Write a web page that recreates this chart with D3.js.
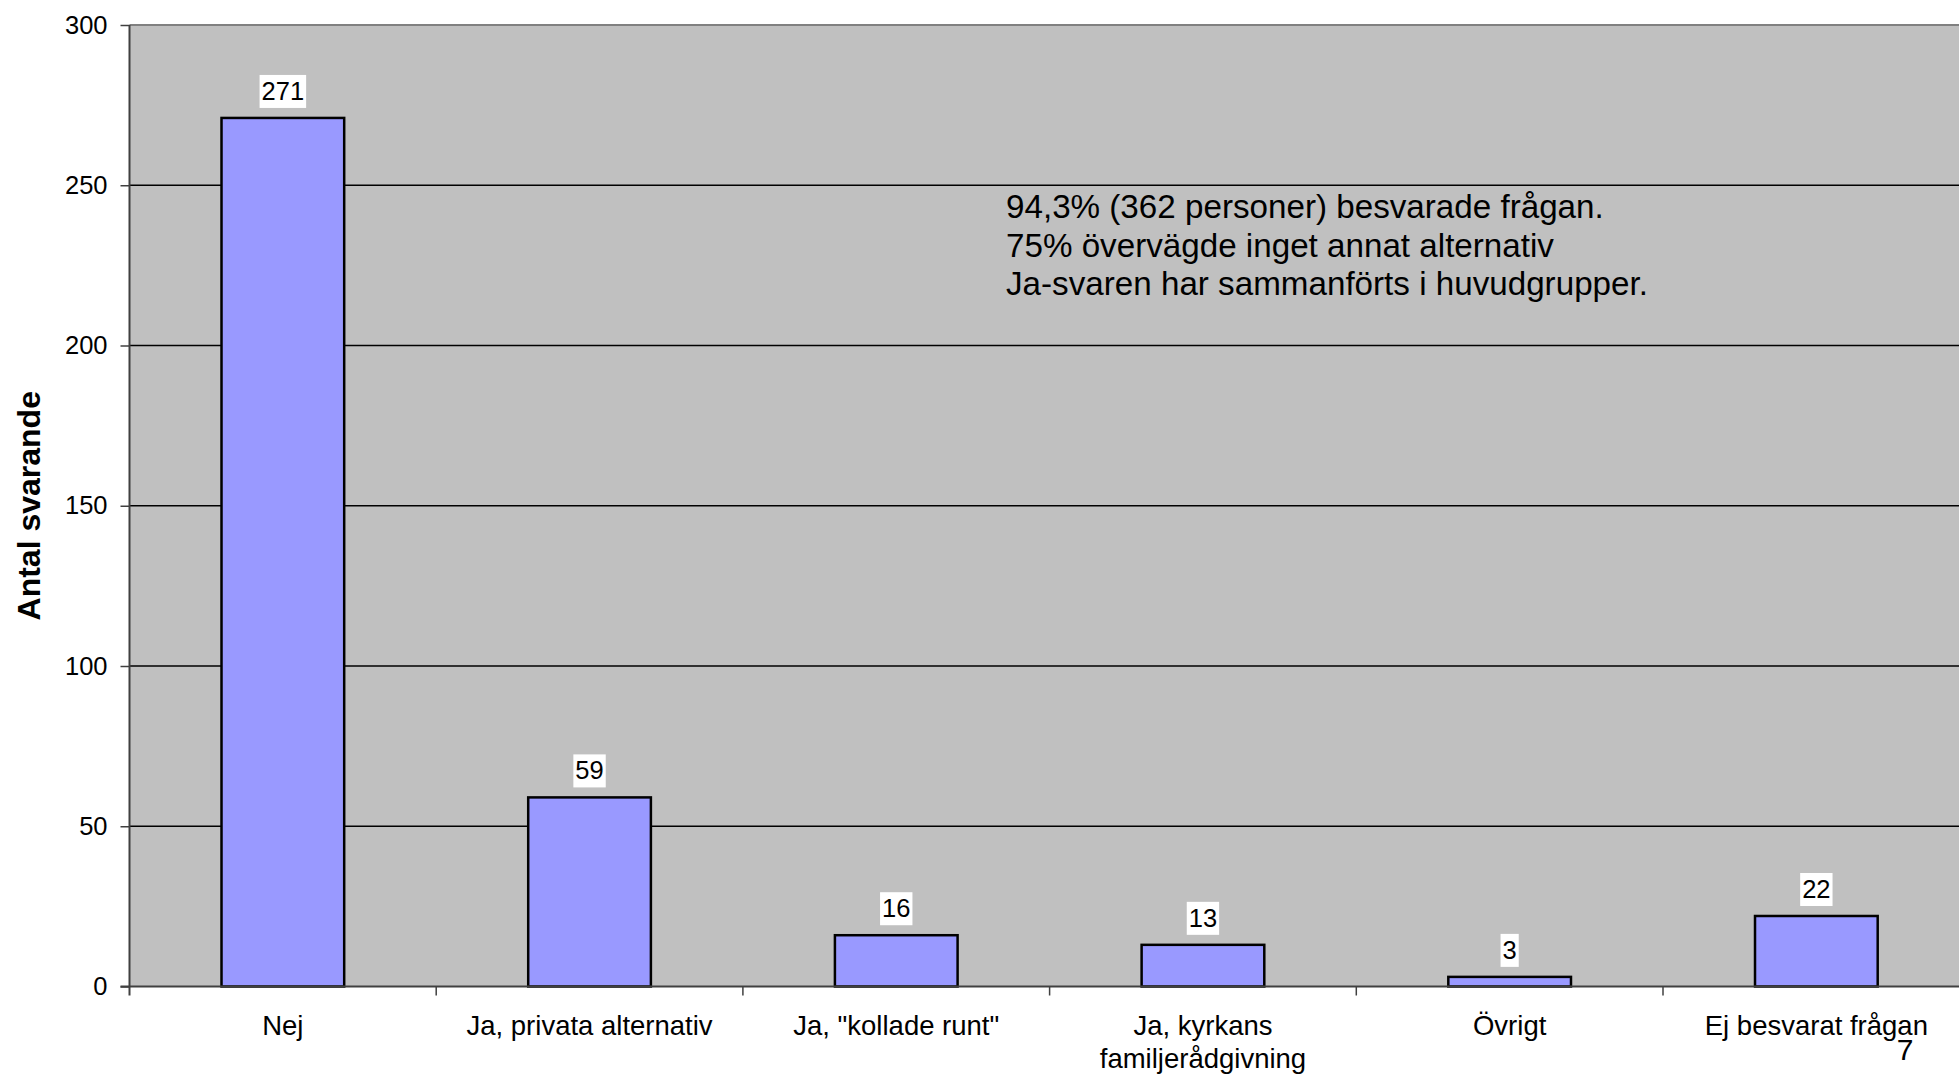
<!DOCTYPE html>
<html>
<head>
<meta charset="utf-8">
<script src="https://cdn.jsdelivr.net/npm/d3@7"></script>
<style>
  html, body { margin: 0; padding: 0; background: #fff; }
  svg { display: block; font-family: "Liberation Sans", Arial, sans-serif; }
</style>
</head>
<body>
<svg id="chart" width="1959" height="1074"></svg>
<script>
// Survey answers: did the respondent consider another alternative?
const categories = ["Nej", "Ja, privata alternativ", "Ja, \"kollade runt\"", "Ja, kyrkans\nfamiljerådgivning", "Övrigt", "Ej besvarat frågan"];
const counts = [271, 59, 16, 13, 3, 22];
const yTicks = [0, 50, 100, 150, 200, 250, 300];
const notes = [
  "94,3% (362 personer) besvarade frågan.",
  "75% övervägde inget annat alternativ",
  "Ja-svaren har sammanförts i huvudgrupper."
];
const yTitle = "Antal svarande";
const pageNumber = "7";

const svg = d3.select("#chart");
const plotLeft = 129.5, plotTop = 25, plotBottom = 986.5;
const bandW = 306.7;
const plotRight = plotLeft + bandW * categories.length;

const x = d3.scaleBand().domain(categories).range([plotLeft, plotRight]).paddingInner(0.6).paddingOuter(0.3);
const xb = d3.scaleBand().domain(categories).range([plotLeft, plotRight]);
const y = d3.scaleLinear().domain([0, 300]).range([plotBottom, plotTop]);

// plot background
svg.append("rect")
  .attr("x", plotLeft).attr("y", plotTop)
  .attr("width", plotRight - plotLeft).attr("height", plotBottom - plotTop)
  .attr("fill", "#c0c0c0");

// gridlines
svg.append("g").selectAll("line")
  .data(yTicks.filter(d => d > 0))
  .join("line")
  .attr("x1", plotLeft).attr("x2", plotRight)
  .attr("y1", d => y(d)).attr("y2", d => y(d))
  .attr("stroke", d => d === 300 ? "#808080" : "#000")
  .attr("stroke-width", d => d === 300 ? 2 : 1.3);

// y axis
const yAxis = d3.axisLeft(y).tickValues(yTicks).tickSize(9).tickPadding(13);
const gy = svg.append("g").attr("transform", `translate(${plotLeft},0)`).call(yAxis);
gy.select(".domain").remove();
gy.selectAll(".tick line").attr("stroke", "#404040").attr("stroke-width", 1.5);
gy.selectAll(".tick text").attr("font-size", 25.5).attr("fill", "#000")
  .attr("font-family", "Liberation Sans, Arial, sans-serif");

// bars
svg.append("g").selectAll("rect")
  .data(counts)
  .join("rect")
  .attr("x", (d, i) => x(categories[i]))
  .attr("y", d => y(d))
  .attr("width", x.bandwidth())
  .attr("height", d => plotBottom - y(d))
  .attr("fill", "#9999ff")
  .attr("stroke", "#000")
  .attr("stroke-width", 2.5);

// axis lines
svg.append("line").attr("x1", plotLeft).attr("x2", plotLeft).attr("y1", plotTop).attr("y2", plotBottom + 9)
  .attr("stroke", "#404040").attr("stroke-width", 2);
svg.append("line").attr("x1", plotLeft - 9).attr("x2", plotRight).attr("y1", plotBottom).attr("y2", plotBottom)
  .attr("stroke", "#404040").attr("stroke-width", 2);

// x category ticks
svg.append("g").selectAll("line")
  .data(categories.slice(1))
  .join("line")
  .attr("x1", d => xb(d)).attr("x2", d => xb(d))
  .attr("y1", plotBottom).attr("y2", plotBottom + 9)
  .attr("stroke", "#404040").attr("stroke-width", 1.5);

// category labels
const xl = svg.append("g").selectAll("text")
  .data(categories)
  .join("text")
  .attr("x", d => x(d) + x.bandwidth() / 2)
  .attr("y", 1035)
  .attr("text-anchor", "middle")
  .attr("font-size", 27.5)
  .attr("fill", "#000");
xl.each(function(d) {
  const lines = d.split("\n");
  const t = d3.select(this);
  lines.forEach((ln, k) => {
    t.append("tspan").attr("x", x(d) + x.bandwidth() / 2).attr("dy", k === 0 ? 0 : 32.5).text(ln);
  });
});

// value labels with white background
const vl = svg.append("g").selectAll("g")
  .data(counts)
  .join("g")
  .attr("transform", (d, i) => `translate(${x(categories[i]) + x.bandwidth() / 2},${y(d) - 10})`);
vl.append("text")
  .attr("text-anchor", "middle")
  .attr("y", -8)
  .attr("font-size", 25.5)
  .attr("fill", "#000")
  .text(d => d);
vl.each(function() {
  const g = d3.select(this);
  const bb = g.select("text").node().getBBox();
  g.insert("rect", "text")
    .attr("x", bb.x - 2).attr("y", -33)
    .attr("width", bb.width + 4).attr("height", 33)
    .attr("fill", "#fff");
});

// annotation
svg.append("g").selectAll("text")
  .data(notes)
  .join("text")
  .attr("x", 1006)
  .attr("y", (d, i) => 218 + i * 38.7)
  .attr("font-size", 33.2)
  .attr("fill", "#000")
  .text(d => d);

// y axis title
svg.append("text")
  .attr("transform", `translate(40,${(plotTop + plotBottom) / 2}) rotate(-90)`)
  .attr("text-anchor", "middle")
  .attr("font-size", 32)
  .attr("font-weight", "bold")
  .attr("fill", "#000")
  .text(yTitle);

// page number
svg.append("text")
  .attr("x", 1905).attr("y", 1060)
  .attr("text-anchor", "middle")
  .attr("font-size", 30)
  .attr("fill", "#000")
  .text(pageNumber);
</script>
</body>
</html>
